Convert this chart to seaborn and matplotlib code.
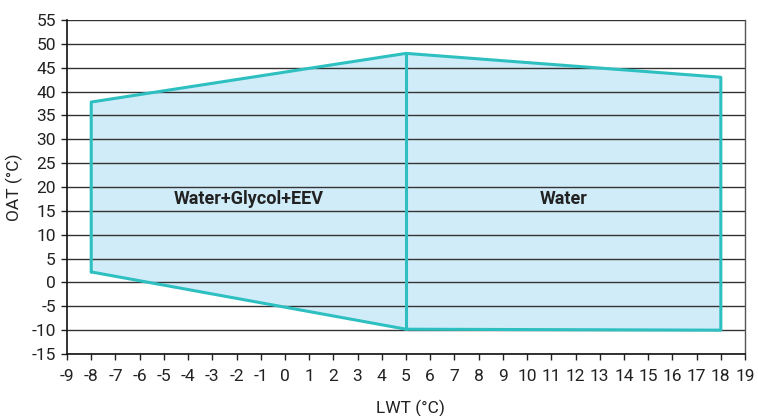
import matplotlib
matplotlib.use("Agg")
import matplotlib.pyplot as plt
import seaborn as sns
import pandas as pd

# Envelope outline (LWT, OAT)
env_lwt = [-8, -8, 5, 18, 18, 5, -8]
env_oat = [2.2, 37.8, 48.0, 43.0, -10.0, -9.8, 2.2]
# Divider between regions
div_lwt = [5, 5]
div_oat = [-9.8, 48.0]
# Region labels
region_names = ["Water+Glycol+EEV", "Water"]
region_x = [-1.5, 11.5]
region_y = [17.5, 17.5]
x_ticks = list(range(-9, 20))
y_ticks = list(range(-15, 56, 5))

sns.set_theme(style="white")
plt.rcParams['font.family'] = ['Roboto', 'DejaVu Sans']

fig = plt.figure(figsize=(7.58, 4.16), dpi=100)
ax = fig.add_axes([0.0884, 0.149, 0.8945, 0.803])

line_col = "#2ec0c0"
fill_col = "#d0ecf9"

ax.fill(env_lwt, env_oat, color=fill_col, zorder=0.5, lw=0)
for yv in y_ticks:
    ax.axhline(yv, color="#333333", lw=1.0, zorder=1)

df_env = pd.DataFrame({"LWT": env_lwt, "OAT": env_oat})
df_div = pd.DataFrame({"LWT": div_lwt, "OAT": div_oat})
sns.lineplot(data=df_env, x="LWT", y="OAT", sort=False, estimator=None,
             color=line_col, lw=2.2, ax=ax, zorder=3)
sns.lineplot(data=df_div, x="LWT", y="OAT", sort=False, estimator=None,
             color=line_col, lw=2.2, ax=ax, zorder=3)

for name, x, y in zip(region_names, region_x, region_y):
    ax.text(x, y, name, ha="center", va="center", fontsize=13,
            fontweight="bold", color="#222222", zorder=4)

ax.set_xlim(-9, 19)
ax.set_ylim(-15, 55)
ax.set_xticks(x_ticks)
ax.set_xticklabels([str(v) for v in x_ticks])
ax.set_yticks(y_ticks)
ax.set_yticklabels([str(v) for v in y_ticks])
ax.tick_params(axis="both", labelsize=12.5, colors="#222222", length=4,
               width=1, direction="out", bottom=True, left=True)
ax.tick_params(axis="x", pad=6.5)
ax.tick_params(axis="y", pad=4)
ax.set_xlabel("LWT (°C)", fontsize=12.5, color="#222222", va="center", ha="center")
ax.set_ylabel("OAT (°C)", fontsize=12.5, color="#222222", va="center", ha="center")
ax.xaxis.set_label_coords(0.507, -0.162)
ax.yaxis.set_label_coords(-0.077, 0.5)

for s in ["left", "bottom"]:
    ax.spines[s].set_color("#111111")
    ax.spines[s].set_linewidth(1.2)
ax.spines["right"].set_color("#555555")
ax.spines["right"].set_linewidth(1.0)
ax.spines["top"].set_visible(False)

fig.savefig("out.png", dpi=100)
